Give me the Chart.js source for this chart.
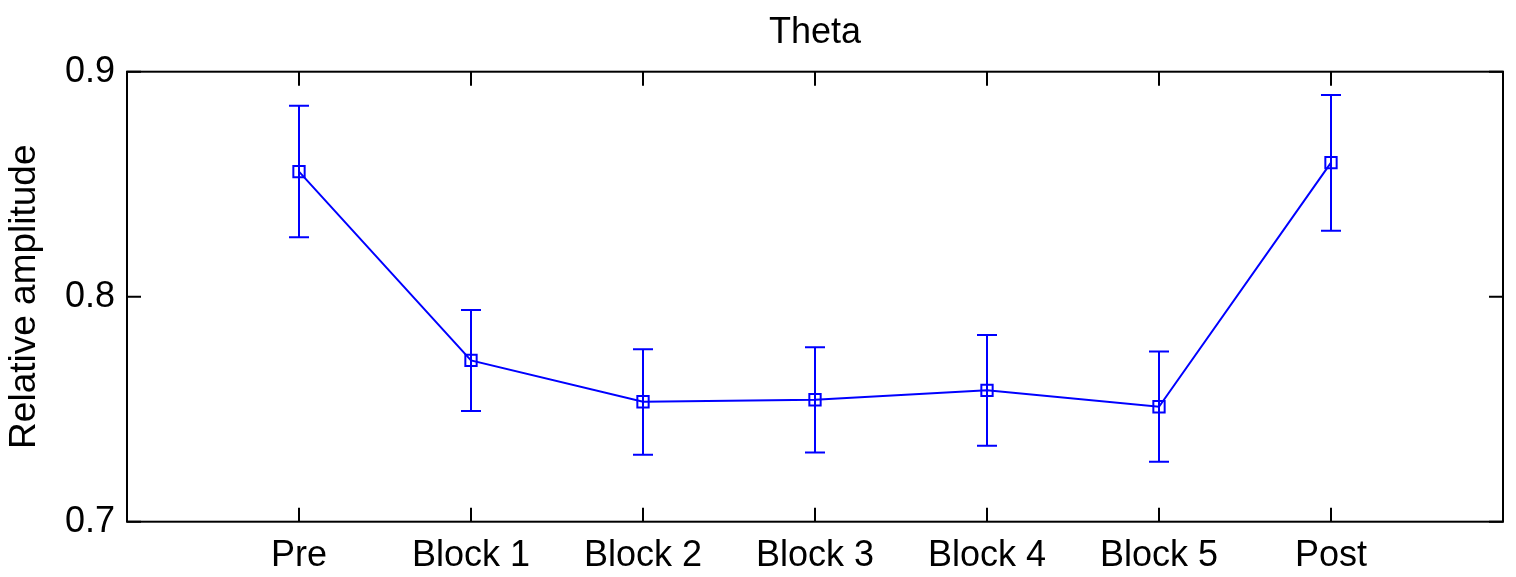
<!DOCTYPE html>
<html>
<head>
<meta charset="utf-8">
<title>Theta</title>
<script src="https://cdn.jsdelivr.net/npm/chart.js@4.4.1/dist/chart.umd.min.js"></script>
<style>
  html, body { margin: 0; padding: 0; background: #fff; }
  canvas { display: block; }
</style>
</head>
<body>
<canvas id="thetaChart" width="1516" height="577"></canvas>
<script>
// Chart values
const categories = ['Pre', 'Block 1', 'Block 2', 'Block 3', 'Block 4', 'Block 5', 'Post'];
const xPositions = [1, 2, 3, 4, 5, 6, 7];
const meanValues = [0.8556, 0.7717, 0.7533, 0.7542, 0.7584, 0.7511, 0.8596];
const upperValues = [0.8849, 0.7941, 0.7766, 0.7775, 0.7830, 0.7756, 0.8896];
const lowerValues = [0.8264, 0.7492, 0.7298, 0.7308, 0.7338, 0.7267, 0.8293];
const yTicks = [0.7, 0.8, 0.9];

const blue = '#0000ff';
const fontFamily = '"Liberation Sans", Arial, Helvetica, sans-serif';

// error bars with caps
const errorBars = {
    id: 'errorBars',
    beforeDatasetsDraw(chart) {
        const ctx = chart.ctx;
        const x = chart.scales.x, y = chart.scales.y;
        ctx.save();
        ctx.strokeStyle = blue;
        ctx.lineWidth = 2;
        xPositions.forEach((pos, i) => {
            const px = x.getPixelForValue(pos);
            const top = y.getPixelForValue(upperValues[i]);
            const bot = y.getPixelForValue(lowerValues[i]);
            ctx.beginPath();
            ctx.moveTo(px, top); ctx.lineTo(px, bot);
            ctx.moveTo(px - 10, top); ctx.lineTo(px + 10, top);
            ctx.moveTo(px - 10, bot); ctx.lineTo(px + 10, bot);
            ctx.stroke();
        });
        ctx.restore();
    }
};

// box round the plot with inward ticks on all four sides
const boxTicks = {
    id: 'boxTicks',
    afterDraw(chart) {
        const ctx = chart.ctx;
        const a = chart.chartArea;
        const x = chart.scales.x, y = chart.scales.y;
        const len = 14;
        ctx.save();
        ctx.strokeStyle = '#000';
        ctx.lineWidth = 2;
        ctx.strokeRect(a.left, a.top, a.right - a.left, a.bottom - a.top);
        ctx.beginPath();
        xPositions.forEach(pos => {
            const px = x.getPixelForValue(pos);
            ctx.moveTo(px, a.bottom); ctx.lineTo(px, a.bottom - len);
            ctx.moveTo(px, a.top); ctx.lineTo(px, a.top + len);
        });
        yTicks.forEach(v => {
            const py = y.getPixelForValue(v);
            ctx.moveTo(a.left, py); ctx.lineTo(a.left + len, py);
            ctx.moveTo(a.right, py); ctx.lineTo(a.right - len, py);
        });
        ctx.stroke();
        ctx.restore();
    }
};

const ctx = document.getElementById('thetaChart').getContext('2d');
new Chart(ctx, {
    type: 'line',
    data: {
        datasets: [{
            data: xPositions.map((pos, i) => ({ x: pos, y: meanValues[i] })),
            borderColor: blue,
            borderWidth: 2,
            pointStyle: 'rect',
            pointRadius: 8,
            pointBorderWidth: 2,
            pointBorderColor: blue,
            pointBackgroundColor: 'rgba(0,0,0,0)',
            fill: false,
            tension: 0
        }]
    },
    options: {
        responsive: false,
        animation: false,
        layout: { padding: { left: 0, right: 13, top: 0, bottom: 0 } },
        plugins: {
            legend: { display: false },
            tooltip: { enabled: false },
            title: {
                display: true,
                text: 'Theta',
                fullSize: false,
                color: '#000',
                font: { family: fontFamily, size: 36, weight: 'normal' },
                padding: { top: 11, bottom: 17.5 }
            }
        },
        scales: {
            x: {
                type: 'linear',
                min: 0,
                max: 8,
                grid: { display: false, drawTicks: false },
                border: { display: false },
                afterBuildTicks: scale => {
                    scale.ticks = xPositions.map(v => ({ value: v }));
                },
                afterFit: scale => { scale.height = 55.3; },
                ticks: {
                    autoSkip: false,
                    maxRotation: 0,
                    padding: 13,
                    color: '#000',
                    font: { family: fontFamily, size: 36 },
                    callback: value => categories[xPositions.indexOf(value)]
                }
            },
            y: {
                min: 0.7,
                max: 0.9,
                grid: { display: false, drawTicks: false },
                border: { display: false },
                afterBuildTicks: scale => {
                    scale.ticks = yTicks.map(v => ({ value: v }));
                },
                afterFit: scale => { scale.width = 127; },
                ticks: {
                    padding: 12,
                    color: '#000',
                    font: { family: fontFamily, size: 36 },
                    callback: value => value.toFixed(1)
                },
                title: {
                    display: true,
                    text: 'Relative amplitude',
                    color: '#000',
                    font: { family: fontFamily, size: 37 },
                    padding: { top: 3, bottom: 0 }
                }
            }
        }
    },
    plugins: [errorBars, boxTicks]
});
</script>
</body>
</html>
